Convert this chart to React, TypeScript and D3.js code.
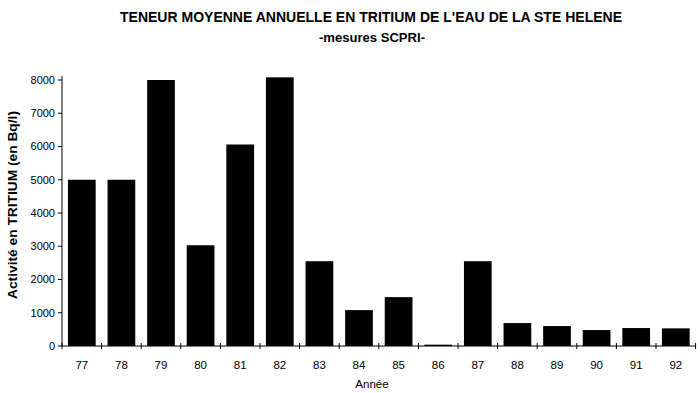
import React from "react";
import * as d3 from "d3";

const years = ["77","78","79","80","81","82","83","84","85","86","87","88","89","90","91","92"];
const values = [5000,5000,8000,3030,6060,8080,2550,1080,1470,40,2550,690,600,480,540,530];
const yTicks = [0,1000,2000,3000,4000,5000,6000,7000,8000];

const W = 700, H = 393;
const left = 62, right = 695.6, top = 80, bottom = 346;

export default function App() {
  const x = d3.scaleBand().domain(years).range([left, right]).paddingInner(0.3).paddingOuter(0.15);
  const y = d3.scaleLinear().domain([0, 8000]).range([bottom, top]);
  const font = "'Liberation Sans', Arial, sans-serif";
  const step = x.step();
  const boundaries = d3.range(years.length + 1).map(i => left + i * step);
  return (
    <svg width={W} height={H} style={{ position: "absolute", left: 0, top: 0, background: "#fff" }}>
      <rect width={W} height={H} fill="#fff" />
      <text x={371} y={22} textAnchor="middle" fontFamily={font} fontWeight="bold" fontSize={14}
        textLength={502} lengthAdjust="spacingAndGlyphs">TENEUR MOYENNE ANNUELLE EN TRITIUM DE L'EAU DE LA STE HELENE</text>
      <text x={372} y={42} textAnchor="middle" fontFamily={font} fontWeight="bold" fontSize={12}
        textLength={106} lengthAdjust="spacingAndGlyphs">-mesures SCPRI-</text>
      {values.map((v, i) => (
        <rect key={years[i]} x={x(years[i])} y={y(v)} width={x.bandwidth()} height={bottom - y(v)} fill="#000" />
      ))}
      <line x1={left} x2={left} y1={top - 4} y2={bottom} stroke="#000" />
      <line x1={left} x2={right} y1={bottom} y2={bottom} stroke="#000" />
      {yTicks.map(t => (
        <g key={t}>
          <line x1={left - 4} x2={left} y1={y(t)} y2={y(t)} stroke="#000" />
          <text x={55} y={y(t)} dy="0.35em" textAnchor="end" fontFamily={font} fontSize={11}>{t}</text>
        </g>
      ))}
      {boundaries.map((b, i) => (
        <line key={i} x1={b} x2={b} y1={bottom - 3} y2={bottom + 3} stroke="#000" />
      ))}
      {years.map(yr => (
        <text key={yr} x={(x(yr) as number) + x.bandwidth() / 2} y={369} textAnchor="middle" fontFamily={font} fontSize={11.5}>{yr}</text>
      ))}
      <text x={372} y={388} textAnchor="middle" fontFamily={font} fontSize={11.5}>Année</text>
      <text transform="translate(17,205) rotate(-90)" textAnchor="middle" fontFamily={font} fontWeight="bold" fontSize={13}
        textLength={188} lengthAdjust="spacingAndGlyphs">Activité en TRITIUM (en Bq/l)</text>
    </svg>
  );
}
